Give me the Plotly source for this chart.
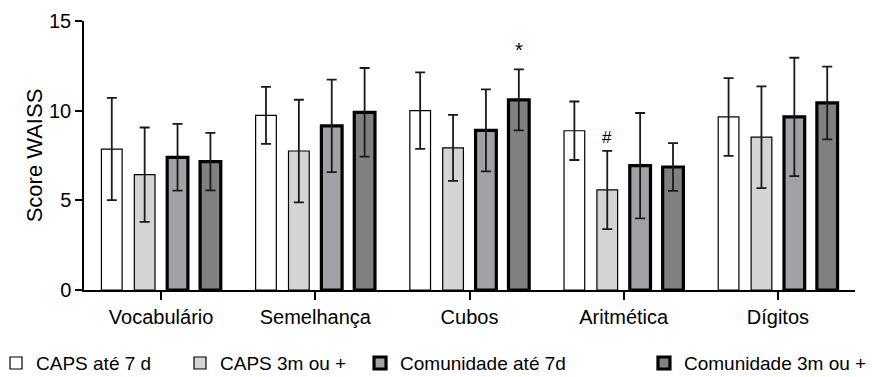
import plotly.graph_objects as go

categories = ["Vocabulário", "Semelhança", "Cubos", "Aritmética", "Dígitos"]
series_names = ["CAPS até 7 d", "CAPS 3m ou +", "Comunidade até 7d", "Comunidade 3m ou +"]

caps_7d_mean = [7.86, 9.74, 10.0, 8.88, 9.65]
caps_7d_sd = [2.85, 1.59, 2.13, 1.63, 2.17]
caps_3m_mean = [6.43, 7.75, 7.92, 5.58, 8.52]
caps_3m_sd = [2.63, 2.86, 1.84, 2.18, 2.84]
com_7d_mean = [7.40, 9.15, 8.90, 6.93, 9.65]
com_7d_sd = [1.86, 2.58, 2.29, 2.94, 3.30]
com_3m_mean = [7.16, 9.91, 10.60, 6.86, 10.43]
com_3m_sd = [1.60, 2.47, 1.70, 1.33, 2.03]

means = [caps_7d_mean, caps_3m_mean, com_7d_mean, com_3m_mean]
sds = [caps_7d_sd, caps_3m_sd, com_7d_sd, com_3m_sd]
fills = ["#ffffff", "#d4d4d4", "#a1a1a5", "#808080"]
line_w = [1.2, 1.2, 3.2, 3.2]

# significance marks: (series index, category index, symbol)
marks = [(3, 2, "*"), (1, 3, "#")]

bargap = 0.147
bargroupgap = 0.37

fig = go.Figure()
legend_ids = ["legend", "legend2", "legend3", "legend4"]
for i in range(4):
    fig.add_trace(go.Bar(
        x=categories, y=means[i], name=series_names[i],
        marker=dict(color=fills[i], line=dict(color="#000000", width=line_w[i])),
        error_y=dict(type="data", array=sds[i], visible=True, color="#1a1a1a",
                     thickness=1.8, width=5),
        legend=legend_ids[i],
    ))

slot = (1 - bargap) / 4
for s, c, sym in marks:
    xpos = c + (s - 1.5) * slot
    fig.add_annotation(x=xpos, y=means[s][c] + sds[s][c], text=sym, showarrow=False,
                       yanchor="bottom", yshift=6 if sym == "*" else 2,
                       font=dict(size=20 if sym == "*" else 17, color="#000"))

leg_x = [-0.1141, 0.1245, 0.358, 0.7263]
layout_legends = {}
for k, lid in enumerate(legend_ids):
    layout_legends[lid] = dict(
        x=leg_x[k], orientation="h", yanchor="middle", y=-0.272, xanchor="left",
        font=dict(size=19, family="Liberation Sans", color="#000"),
        bgcolor="rgba(0,0,0,0)", itemwidth=30)

fig.update_layout(
    width=893, height=377,
    margin=dict(l=76, r=46, t=13, b=95, autoexpand=False),
    paper_bgcolor="#ffffff", plot_bgcolor="#ffffff",
    barmode="group", bargap=bargap, bargroupgap=bargroupgap,
    font=dict(family="Liberation Sans", color="#000", size=19),
    showlegend=True,
    xaxis=dict(showline=True, linecolor="#000", linewidth=1.5, ticks="outside",
               ticklen=8, tickwidth=1.5, tickcolor="#000", showgrid=False,
               tickfont=dict(size=20), range=[-0.5, 4.5], automargin=False),
    yaxis=dict(range=[0, 15], tickvals=[0, 5, 10, 15], showline=True, linecolor="#000",
               linewidth=1.5, ticks="outside", ticklen=7, tickwidth=1.5, tickcolor="#000",
               showgrid=False, zeroline=False, tickfont=dict(size=20), automargin=False,
               title=dict(text="Score WAISS", font=dict(size=22), standoff=0)),
    **layout_legends,
)

fig.write_html("out.html")
